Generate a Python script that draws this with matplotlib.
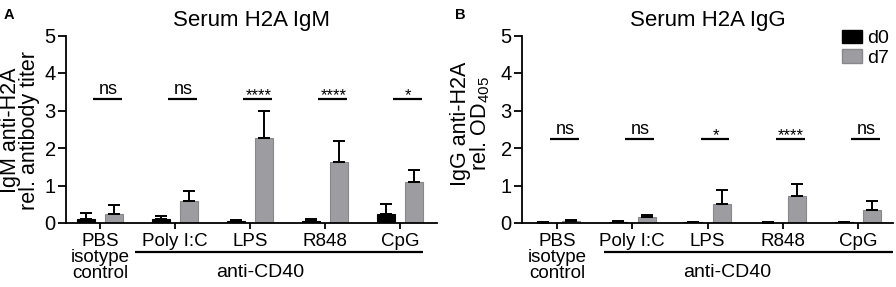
import numpy as np
import matplotlib
matplotlib.use("Agg")
import matplotlib.pyplot as plt
from matplotlib.patches import Patch

plt.rcParams['font.family'] = ['Liberation Sans', 'DejaVu Sans']
plt.rcParams['mathtext.fontset'] = 'custom'
plt.rcParams['mathtext.rm'] = 'Liberation Sans'
plt.rcParams['mathtext.it'] = 'Liberation Sans:italic'

# data
groups = ["PBS\nisotype\ncontrol", "Poly I:C", "LPS", "R848", "CpG"]
days = ["d0", "d7"]

igm_d0 = [0.10, 0.12, 0.06, 0.06, 0.24]
igm_d0_err = [0.17, 0.07, 0.03, 0.05, 0.26]
igm_d7 = [0.23, 0.60, 2.27, 1.62, 1.09]
igm_d7_err = [0.24, 0.26, 0.73, 0.56, 0.32]
igm_sig = ["ns", "ns", "****", "****", "*"]

igg_d0 = [0.01, 0.04, 0.02, 0.01, 0.03]
igg_d0_err = [0.01, 0.02, 0.02, 0.01, 0.01]
igg_d7 = [0.05, 0.17, 0.52, 0.71, 0.34]
igg_d7_err = [0.02, 0.05, 0.35, 0.33, 0.24]
igg_sig = ["ns", "ns", "*", "****", "ns"]

black = '#000000'
grey = '#9d9da1'
grey_edge = '#88888c'

W, H = 896, 287
fig = plt.figure(figsize=(W / 100, H / 100), dpi=100)


def panel(left_px, xlim, title, ylabel, d0, d0e, d7, d7e, sig, sig_y,
          bracket, bracket_text_x, letter, letter_x, ylab_x, ylab_y):
    ax = fig.add_axes([left_px / W, 1 - 223 / H, 371 / W, 187.5 / H])
    x = np.arange(len(groups))
    off, bw = 0.19, 0.24
    ax.bar(x - off, d0, bw, color=black, edgecolor=black, linewidth=0.8, zorder=2)
    ax.bar(x + off, d7, bw, color=grey, edgecolor=grey_edge, linewidth=0.8, zorder=2)
    ax.errorbar(x - off, d0, yerr=[np.zeros(len(d0)), d0e], fmt='none',
                ecolor=black, elinewidth=1.4, capsize=4.5, capthick=1.4, zorder=3)
    ax.errorbar(x + off, d7, yerr=[np.zeros(len(d7)), d7e], fmt='none',
                ecolor=black, elinewidth=1.4, capsize=4.5, capthick=1.4, zorder=3)

    # significance lines
    for xi, s in zip(x, sig):
        ax.plot([xi - 0.09, xi + 0.29], [sig_y, sig_y], color='black', lw=1.6,
                solid_capstyle='butt')
        if s == 'ns':
            ax.text(xi + 0.11, sig_y + 0.13, s, ha='center', va='baseline', fontsize=13)
        else:
            ax.text(xi + 0.11, sig_y - 0.02, s, ha='center', va='baseline', fontsize=12)

    ax.set_xlim(*xlim)
    ax.set_ylim(0, 5)
    ax.set_yticks([0, 1, 2, 3, 4, 5])
    ax.set_xticks(x)
    ax.set_xticklabels(groups, fontsize=13.5, linespacing=0.92)
    ax.tick_params(axis='y', labelsize=14.5, length=5.8, width=1.3, pad=1.5)
    ax.tick_params(axis='x', length=4.5, width=1.3, pad=3)
    for side in ['top', 'right']:
        ax.spines[side].set_visible(False)
    for side in ['left', 'bottom']:
        ax.spines[side].set_linewidth(1.3)
    ax.set_title(title, fontsize=16, pad=7)

    # anti-CD40 bracket under the stimulated groups
    ax.plot(bracket, [-0.155, -0.155], color='black', lw=1.6,
            transform=ax.get_xaxis_transform(), clip_on=False, solid_capstyle='butt')
    ax.text(bracket_text_x, -0.265, "anti-CD40", ha='center', va='center', fontsize=14,
            transform=ax.get_xaxis_transform())

    fig.text(letter_x / W, 1 - 15 / H, letter, fontsize=10.5, fontweight='bold',
             ha='left', va='center')
    fig.text(ylab_x / W, 1 - ylab_y / H, ylabel, rotation=90, fontsize=15.5,
             ha='center', va='center', linespacing=0.85, multialignment='center')
    return ax


axA = panel(66, (-0.453, 4.493), "Serum H2A IgM", "IgM anti-H2A\nrel. antibody titer",
            igm_d0, igm_d0_err, igm_d7, igm_d7_err, igm_sig, 3.3,
            [0.467, 4.307], 2.13, "A", 4, 20, 130)
axB = panel(522, (-0.465, 4.465), "Serum H2A IgG", "IgG anti-H2A\nrel. OD$_{405}$",
            igg_d0, igg_d0_err, igg_d7, igg_d7_err, igg_sig, 2.23,
            [0.62, 4.465], 2.26, "B", 455, 471, 124)

handles = [Patch(facecolor=black, edgecolor=black), Patch(facecolor=grey, edgecolor=grey_edge)]
axB.legend(handles, days, loc='upper right', bbox_to_anchor=(0.99, 1.03), frameon=False,
           fontsize=14, handlelength=1.0, handleheight=0.7, handletextpad=0.3,
           labelspacing=0.1, borderpad=0, borderaxespad=0)

fig.savefig("out.png", dpi=100)
